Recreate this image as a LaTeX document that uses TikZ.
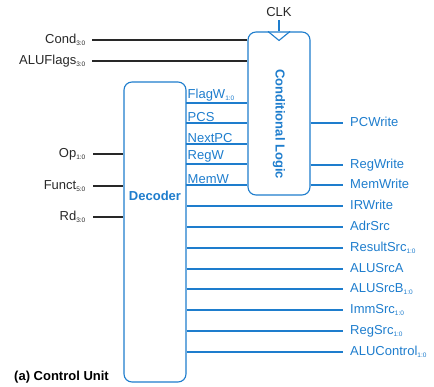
\documentclass[tikz,border=0pt]{standalone}
\usepackage{fontspec}
\setmainfont{Liberation Sans}
\usetikzlibrary{calc}
\definecolor{cublue}{RGB}{30,125,205}
\definecolor{cugray}{RGB}{40,40,40}
\newcommand\sbs[1]{\textsubscript{\fontsize{6.5}{6.5}\selectfont #1}}
\tikzset{
  x=1pt, y=-1pt,
  unitbox/.style={draw=cublue, line width=1.1pt, rounded corners=8pt, fill=white, inner sep=0pt},
  bluewire/.style={draw=cublue, line width=1.1pt},
  blackwire/.style={draw=cugray, line width=1.3pt},
  inlabel/.style={font=\fontsize{13}{15}\selectfont, text=cugray, anchor=east, inner sep=0pt, text height=9.5pt, text depth=2.5pt},
  outlabel/.style={font=\fontsize{13}{15}\selectfont, text=cublue, anchor=west, inner sep=0pt, text height=9.5pt, text depth=2.5pt},
  siglabel/.style={font=\fontsize{13}{15}\selectfont, text=cublue, anchor=south west, inner sep=1.5pt},
  boxtitle/.style={font=\bfseries\fontsize{13}{15}\selectfont, text=cublue},
}
\begin{document}
\begin{tikzpicture}
\useasboundingbox (0,0) rectangle (434,387);
% boxes
\node[unitbox, minimum width=62pt, minimum height=300pt] (dec) at (155,232) {};
\node[unitbox, minimum width=62pt, minimum height=163pt] (cl) at (279,113.5) {};
\node[boxtitle] (dect) at (155,196) {Decoder};
\node[boxtitle, rotate=-90] (clt) at (279,124) {Conditional Logic};
% clock
\node[font=\fontsize{13}{15}\selectfont, text=cugray, inner sep=0pt] (clk) at (279,12) {CLK};
\coordinate (clkb) at (279,20);
\draw[bluewire] (clkb) -- (clkb |- cl.north);
\draw[bluewire, line join=miter] ($(cl.north)+(-11,0)$) coordinate (t1) -- ($(cl.north)+(0,9)$) coordinate (t2) -- ($(cl.north)+(11,0)$) coordinate (t3);
% inputs to conditional logic
\coordinate (cond) at (92,40);
\coordinate (aluf) at (92,61);
\node[inlabel] (condl) at (86,40) {Cond\sbs{3:0}};
\node[inlabel] (alufl) at (86,61) {ALUFlags\sbs{3:0}};
\draw[blackwire] (cond) -- (cond -| cl.west);
\draw[blackwire] (aluf) -- (aluf -| cl.west);
% inputs to decoder
\coordinate (op) at (93,154);
\coordinate (funct) at (93,186);
\coordinate (rd) at (93,217);
\node[inlabel] (opl) at (86,154) {Op\sbs{1:0}};
\node[inlabel] (functl) at (86,186) {Funct\sbs{5:0}};
\node[inlabel] (rdl) at (86,217) {Rd\sbs{3:0}};
\draw[blackwire] (op) -- (op -| dec.west);
\draw[blackwire] (funct) -- (funct -| dec.west);
\draw[blackwire] (rd) -- (rd -| dec.west);
% decoder to conditional logic
\foreach \y/\t/\n in {103/FlagW\sbs{1:0}/fw, 123/PCS/pcs, 144/NextPC/npc, 164/RegW/rw, 185/MemW/mw} {
  \coordinate (\n a) at (186,\y);
  \draw[bluewire] (\n a) -- (\n a -| cl.west);
  \node[siglabel] (\n l) at (\n a) {\t};
}
% conditional logic outputs
\foreach \y/\t/\n in {123/PCWrite/pcw, 165/RegWrite/regw, 185/MemWrite/memw} {
  \coordinate (\n e) at (343,\y);
  \draw[bluewire] (\n e -| cl.east) -- (\n e);
  \node[outlabel] (\n l) at (350,\y) {\t};
}
% decoder outputs
\foreach \y/\t/\n in {206/IRWrite/irw, 227/AdrSrc/adr, 248/ResultSrc\sbs{1:0}/res, 269/ALUSrcA/asa, 289/ALUSrcB\sbs{1:0}/asb, 310/ImmSrc\sbs{1:0}/imm, 331/RegSrc\sbs{1:0}/rgs, 352/ALUControl\sbs{1:0}/aluc} {
  \coordinate (\n e) at (343,\y);
  \draw[bluewire] (\n e -| dec.east) -- (\n e);
  \node[outlabel] (\n l) at (350,\y) {\t};
}
% caption
\node[font=\bfseries\fontsize{13}{15}\selectfont, anchor=west, inner sep=0pt, text=black] (cap) at (14,377) {(a) Control Unit};
\end{tikzpicture}
\end{document}
